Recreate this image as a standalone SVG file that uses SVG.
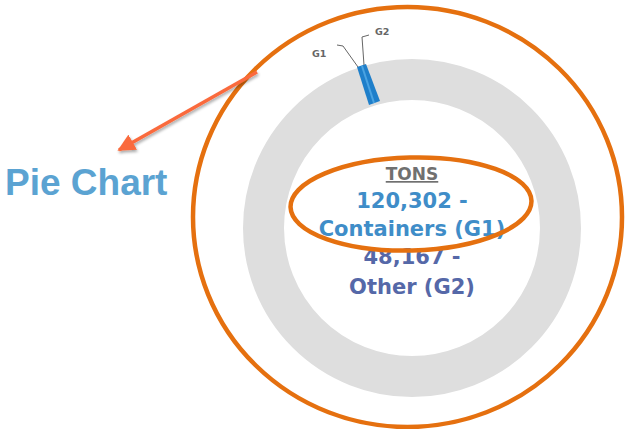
<svg xmlns="http://www.w3.org/2000/svg" width="625" height="429" viewBox="0 0 625 429">
  <style>
    .ring { fill: none; stroke: #e5700f; stroke-width: 4.5; }
    .mid { font-family: "DejaVu Sans", "Liberation Sans", sans-serif; font-weight: bold; text-anchor: middle; }
    .g1 { fill: #3f8dc8; font-size: 21px; }
    .g2 { fill: #5568a8; font-size: 21px; }
    .tons { fill: #707070; font-size: 17px; text-decoration: underline; }
    .lbl { font-family: "DejaVu Sans", "Liberation Sans", sans-serif; font-size: 9.5px; fill: #666; font-weight: bold; }
    .lead { fill: none; stroke: #666; stroke-width: 1; }
  </style>
  <defs>
    <marker id="ah" viewBox="0 0 10 10" refX="9" refY="5" markerWidth="5" markerHeight="5" orient="auto" markerUnits="strokeWidth">
      <path d="M0,0 L10,5 L0,10 Z" fill="#fa6a3c"/>
    </marker>
    <filter id="sh" x="-20%" y="-20%" width="140%" height="140%">
      <feGaussianBlur in="SourceAlpha" stdDeviation="1.5"/>
      <feOffset dx="1" dy="2" result="b"/>
      <feComponentTransfer><feFuncA type="linear" slope="0.35"/></feComponentTransfer>
      <feMerge><feMergeNode/><feMergeNode in="SourceGraphic"/></feMerge>
    </filter>
  </defs>

  <g id="donut">
    <circle cx="412" cy="228" r="148.5" fill="none" stroke="#dedede" stroke-width="41"/>
    <polygon points="357,67 366,64 380,101 369,105" fill="#1f7fca"/>
    <line x1="362" y1="66" x2="374" y2="103" stroke="#4aa3e2" stroke-width="2"/>
  </g>

  <g id="slice-labels">
    <text class="lbl" x="312" y="57">G1</text>
    <polyline class="lead" points="337,45 343,46 358,67"/>
    <text class="lbl" x="375" y="35">G2</text>
    <polyline class="lead" points="369,35 362,37 364,65"/>
  </g>

  <g id="center-text" class="mid">
    <text class="tons" x="412" y="180">TONS</text>
    <text class="g1" x="412" y="208">120,302 -</text>
    <text class="g1" x="412" y="236">Containers (G1)</text>
    <text class="g2" x="412" y="264">48,167 -</text>
    <text class="g2" x="412" y="294">Other (G2)</text>
  </g>

  <g id="outer-ring">
    <ellipse class="ring" cx="407.5" cy="217" rx="214.5" ry="210"/>
  </g>

  <g id="inner-ring">
    <ellipse class="ring" cx="411" cy="204" rx="120.5" ry="46.5" transform="rotate(-1.5 411 204)"/>
  </g>

  <g id="pie-chart-label">
    <text x="5" y="195" font-family="Liberation Sans, Arial, sans-serif" font-weight="bold" font-size="37" fill="#5ba3d2">Pie Chart</text>
  </g>

  <g id="connectors">
    <line x1="257" y1="72" x2="119" y2="150" stroke="#fa6a3c" stroke-width="3.5" marker-end="url(#ah)" filter="url(#sh)"/>
  </g>
</svg>
